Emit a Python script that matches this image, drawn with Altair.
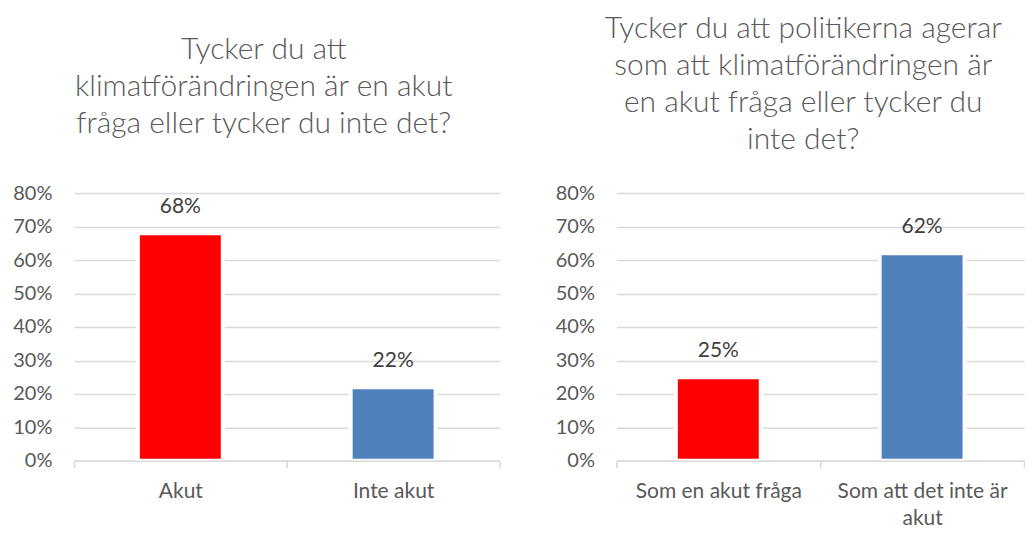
import altair as alt
import pandas as pd

left_categories = ["Akut", "Inte akut"]
left_values = [0.68, 0.22]
right_categories = ["Som en akut fråga", "Som att det inte är akut"]
right_values = [0.25, 0.62]
right_wrapped = ["Som att det inte är", "akut"]
bar_colors = ["#FF0000", "#4F81BD"]
y_ticks = [0, 0.1, 0.2, 0.3, 0.4, 0.5, 0.6, 0.7, 0.8]
left_title = ["Tycker du att", "klimatförändringen är en akut", "fråga eller tycker du inte det?"]
right_title = ["Tycker du att politikerna agerar", "som att klimatförändringen är",
               "en akut fråga eller tycker du", "inte det?"]

FONT = "Lato"
TEXT = "#595959"
GRID = "#D9D9D9"


def panel(cats, vals, title, width, height, title_offset, title_dx, label_expr=None):
    df = pd.DataFrame({"kategori": cats, "andel": vals})
    axis_kw = dict(title=None, labelAngle=0, tickBand="extent", grid=False,
                   domainColor=GRID, domainWidth=1.5, tickColor=GRID, tickWidth=1.5,
                   tickSize=7, labelFont=FONT, labelFontSize=21, labelColor=TEXT,
                   labelPadding=13, labelLineHeight=27, labelLimit=400, zindex=1)
    if label_expr:
        axis_kw["labelExpr"] = label_expr
    x = alt.X("kategori:N", sort=cats,
              scale=alt.Scale(paddingInner=0, paddingOuter=0),
              axis=alt.Axis(**axis_kw))
    y = alt.Y("andel:Q", scale=alt.Scale(domain=[0, 0.8], nice=False),
              axis=alt.Axis(title=None, values=y_ticks, format=".0%", domain=False,
                            ticks=False, gridColor=GRID, gridWidth=1.5,
                            labelFont=FONT, labelFontSize=20, labelColor=TEXT,
                            labelPadding=22))
    bars = alt.Chart(df).mark_bar(size=85, stroke="white", strokeWidth=4).encode(
        x=x, y=y,
        color=alt.Color("kategori:N", scale=alt.Scale(domain=cats, range=bar_colors),
                        legend=None),
    )
    labels = alt.Chart(df).mark_text(font=FONT, fontSize=21, color="#404040",
                                     dy=-20, baseline="alphabetic").encode(
        x=x, y=y, text=alt.Text("andel:Q", format=".0%"))
    return alt.layer(bars, labels).properties(
        width=width, height=height,
        title=alt.TitleParams(text=title, font=FONT, fontSize=30, fontWeight=300,
                              color=TEXT, lineHeight=37, anchor="middle",
                              frame="group", offset=title_offset, dx=title_dx),
    )


expr = ("datum.value == '" + right_categories[1] + "' ? ['" + right_wrapped[0] +
        "', '" + right_wrapped[1] + "'] : datum.value")

left = panel(left_categories, left_values, left_title, 426, 268, 44, -23)
right = panel(right_categories, right_values, right_title, 408, 268, 28, -17, expr)

chart = alt.hconcat(left, right, spacing=117, bounds="flush").properties(
    padding={"left": 4, "top": 6, "right": 0, "bottom": 0}
).configure_view(stroke=None)

chart.save("out.html", embed_options={"renderer": "svg", "actions": False})
